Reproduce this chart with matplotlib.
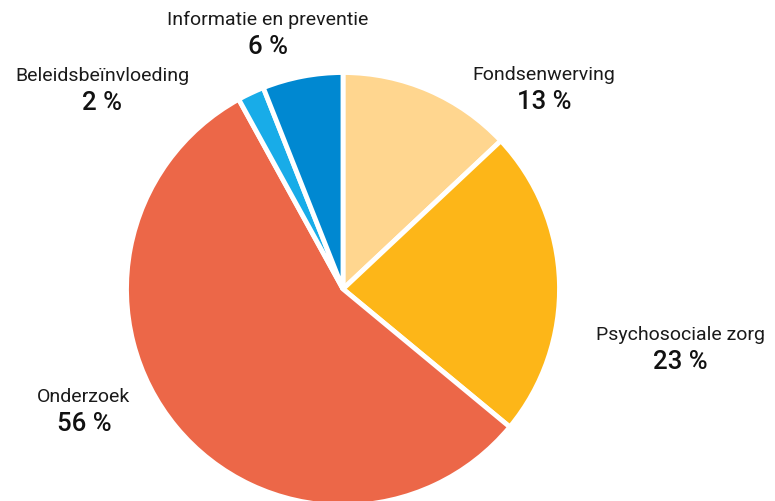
import matplotlib.pyplot as plt

# slice data, clockwise from the top
categories = ['Fondsenwerving', 'Psychosociale zorg', 'Onderzoek',
              'Beleidsbeïnvloeding', 'Informatie en preventie']
shares = [13, 23, 56, 2, 6]
colors = ['#FFD68F', '#FDB618', '#EC6748', '#18ACE8', '#0088D1']

# label anchor points (pixels from the top-left)
label_pos = [(544, 75), (680, 335), (84, 397), (102, 76), (268, 20)]

W, H = 775, 502
fig = plt.figure(figsize=(W / 100, H / 100), dpi=100)
ax = fig.add_axes([0, 0, 1, 1])

ax.pie(shares, colors=colors, startangle=90, counterclock=False,
       center=(343, H - 290), radius=216.5,
       wedgeprops=dict(edgecolor='white', linewidth=3.5))

# pie() resets the limits, so set them afterwards
ax.set_xlim(0, W)
ax.set_ylim(0, H)
ax.set_aspect('equal')
ax.axis('off')

for name, val, (x, y) in zip(categories, shares, label_pos):
    ax.text(x, H - y, name, ha='center', va='center',
            fontsize=14, family='Roboto', color='#1a1a1a')
    ax.text(x, H - y - 27, f'{val} %', ha='center', va='center',
            fontsize=18.5, family='Roboto', fontweight='medium', color='#111111')

fig.savefig('out.png', dpi=100)
